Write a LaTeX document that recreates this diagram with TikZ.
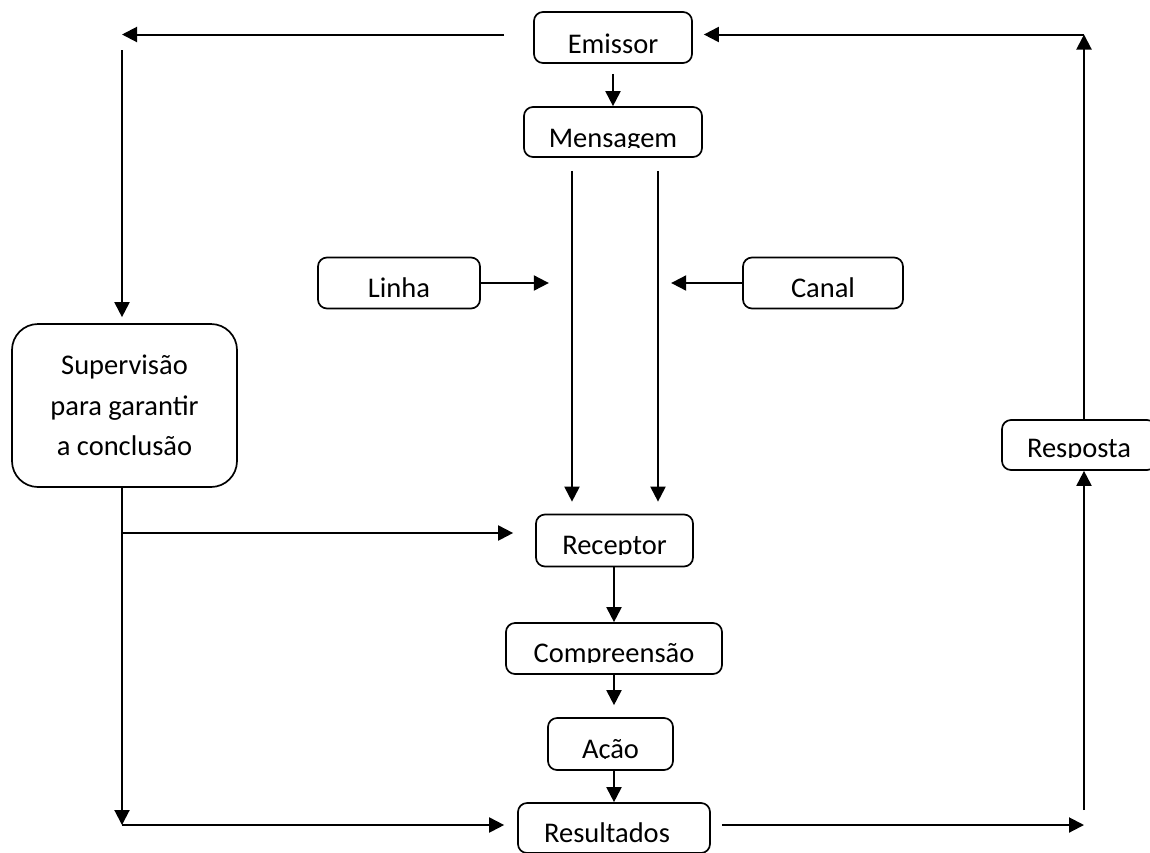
\documentclass[tikz,border=0pt]{standalone}
\usepackage{fontspec}
\setmainfont{Carlito}
\usetikzlibrary{arrows.meta,calc}
\begin{document}
\begin{tikzpicture}[x=1pt,y=-1pt,
  box/.style={draw, line width=1.7pt, rounded corners=9pt, inner sep=0pt,
    font=\fontsize{28.5}{40.5}\selectfont, text depth=0pt},
  arr/.style={line width=2pt, -{Triangle[length=15pt,width=15pt]}},
  cover/.style={fill=white}]
\useasboundingbox (0,0) rectangle (1150,852);
\clip (0,0) rectangle (1150,852);

% boxes
\node[box, minimum width=158pt, minimum height=51pt, text height=31pt] (emissor) at (613,37.5) {Emissor};
\node[box, minimum width=178pt, minimum height=50pt, text height=30pt] (mensagem) at (613,132) {Mensagem};
\node[box, minimum width=162pt, minimum height=51pt, text height=28pt] (linha) at (399,283) {Linha};
\node[box, minimum width=160pt, minimum height=51pt, text height=28pt] (canal) at (823,283) {Canal};
\node[draw, line width=1.7pt, rounded corners=26pt, inner sep=0pt,
  minimum width=225pt, minimum height=163pt, align=center,
  font=\fontsize{28.5}{40.5}\selectfont] (sup) at (124.5,405.5)
  {Supervisão\\para garantir\\a conclusão};
\node[box, minimum width=154pt, minimum height=50pt, text height=24pt] (resposta) at (1079,445) {Resposta};
\node[box, minimum width=157pt, minimum height=52pt, text height=27pt] (receptor) at (614.5,540.5) {Receptor};
\node[box, minimum width=216pt, minimum height=51pt, text height=27pt] (comp) at (614,648.5) {Compreensão};
\node[box, minimum width=125pt, minimum height=52pt, text height=28pt] (acao) at (610.5,744) {Ação};
\node[box, minimum width=192pt, minimum height=50pt, text height=28pt] (result) at (614,828) {Resultados\hspace*{14pt}};

% text clipped at the bottom of the boxes
\fill[cover] ($(mensagem.south)+(-75,-1.9)$) rectangle ($(mensagem.south)+(75,-10.3)$);
\fill[cover] ($(receptor.south)+(-65,-1.9)$) rectangle ($(receptor.south)+(65,-12.3)$);
\fill[cover] ($(comp.south)+(-90,-1.9)$) rectangle ($(comp.south)+(90,-12.3)$);
\fill[cover] ($(acao.south)+(-45,-1.9)$) rectangle ($(acao.south)+(45,-12.3)$);
\fill[cover] ($(resposta.south)+(-62,-1.9)$) rectangle ($(resposta.south)+(62,-13.3)$);
\fill[cover] ($(result.south)+(-80,-1.9)$) rectangle ($(result.south)+(75,-11.3)$);

% free ends
\coordinate (tl) at (122,34.5);
\coordinate (lv) at (122,50);
\coordinate (lm) at (122,533);
\coordinate (bl) at (122,825);
\coordinate (br) at (1084,825);
\coordinate (rv) at (1084,810);
\coordinate (tr) at (1084,34.5);

% connectors
\draw[arr] ($(emissor.west)+(-29,-3)$) -- (tl);
\draw[arr, shorten >=6pt] (lv) -- (lv |- sup.north);
\draw[arr] ($(emissor.south)+(0,10)$) -- (mensagem.north);
\draw[arr] ($(mensagem.south)+(-41,13)$) -- ($(receptor.north)+(-42.5,-12)$);
\draw[arr] ($(mensagem.south)+(45,13)$) -- ($(receptor.north)+(43.5,-12)$);
\draw[arr] (linha.east) -- ++(68,0);
\draw[arr] (canal.west) -- ++(-71,0);
\draw[line width=2pt] (lv |- sup.south) -- (lm);
\draw[arr] (lm) -- (bl);
\draw[arr, shorten >=22pt] (lm) -- (lm -| receptor.west);
\draw[arr, shorten >=13pt] (bl) -- (bl -| result.west);
\draw[arr] (comp.north |- receptor.south) -- (comp.north);
\draw[arr, shorten >=12pt] (comp.south) -- (comp.south |- acao.north);
\draw[arr] (comp.south |- acao.south) -- (comp.south |- result.north);
\draw[arr] ($(result.east |- br)+(11,0)$) -- (br);
\draw[arr] (rv) -- (rv |- resposta.south);
\draw[arr] (rv |- resposta.north) -- (tr);
\draw[arr] (tr) -- ($(emissor.east)+(11,-3)$);
\end{tikzpicture}
\end{document}
